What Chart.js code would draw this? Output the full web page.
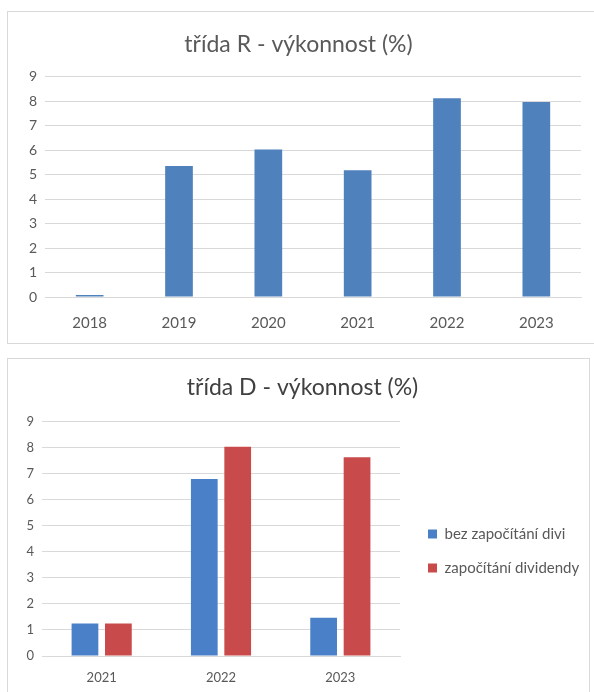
<!DOCTYPE html>
<html>
<head>
<meta charset="utf-8">
<script src="https://cdn.jsdelivr.net/npm/chart.js@4/dist/chart.umd.min.js"></script>
<style>
  body { margin: 0; background: #fff; overflow: hidden; width: 594px; height: 692px; position: relative; }
  .box { position: absolute; border: 1px solid #d9d9d9; background: #fff; }
  #boxR { left: 7px; top: 11px; width: 600px; height: 331px; }
  #boxD { left: 7px; top: 358px; width: 581px; height: 340px; }
  canvas { display: block; }
</style>
</head>
<body>
<div class="box" id="boxR"><div style="width:587px;height:331px"><canvas id="chartR"></canvas></div></div>
<div class="box" id="boxD"><div style="width:581px;height:334px"><canvas id="chartD"></canvas></div></div>
<script>
// třída R
var yearsR = ['2018', '2019', '2020', '2021', '2022', '2023'];
var valuesR = [0.08, 5.35, 6.02, 5.18, 8.12, 7.96];

// třída D
var yearsD = ['2021', '2022', '2023'];
var bezDivi = [1.25, 6.8, 1.47];
var sDividendou = [1.25, 8.03, 7.63];
var seriesD = ['bez započítání divi', 'započítání dividendy'];

var FONT = 'Lato, Calibri, "Open Sans", sans-serif';
var gridCol = '#d9d9d9';
var tickCol = '#595959';

function yAxis(w, fs) {
  return {
    min: 0, max: 9,
    ticks: { stepSize: 1, color: tickCol, font: { family: FONT, size: fs }, padding: 8 },
    grid: { color: gridCol, drawTicks: false },
    border: { display: false },
    afterFit: function(s) { s.width = w; }
  };
}
function xAxis(h, pad, fs) {
  return {
    ticks: { color: tickCol, font: { family: FONT, size: fs }, padding: pad },
    grid: { display: false, drawTicks: false },
    border: { color: gridCol },
    afterFit: function(s) { s.height = h; }
  };
}

new Chart(document.getElementById('chartR'), {
  type: 'bar',
  data: {
    labels: yearsR,
    datasets: [{ label: 'třída R', data: valuesR, backgroundColor: '#4f81bd' }]
  },
  options: {
    responsive: true, maintainAspectRatio: false, animation: false,
    layout: { padding: { left: 8, right: 14, top: 0, bottom: 0 } },
    datasets: { bar: { categoryPercentage: 1, barPercentage: 0.31 } },
    plugins: {
      legend: { display: false },
      tooltip: { enabled: false },
      title: {
        display: true, text: 'třída R - výkonnost (%)', color: '#595959',
        font: { family: FONT, size: 23, weight: 'normal' },
        padding: { top: 19, bottom: 18 }
      }
    },
    scales: { x: xAxis(46, 17, 15), y: yAxis(29, 14) }
  }
});

// legenda: pevna sirka a posun
var legendFix = {
  id: 'legendFix',
  beforeLayout: function(chart) {
    var lg = chart.legend;
    if (lg && !lg._fixed) {
      var fit = lg.fit;
      lg.fit = function() { fit.call(this); this.width = 189; };
      lg._fixed = true;
    }
  },
  afterLayout: function(chart) {
    if (chart.legend) {
      chart.legend.left += 9;
      chart.legend.top += 50;
    }
  }
};

new Chart(document.getElementById('chartD'), {
  type: 'bar',
  data: {
    labels: yearsD,
    datasets: [
      { label: seriesD[0], data: bezDivi, backgroundColor: '#4a80c8' },
      { label: seriesD[1], data: sDividendou, backgroundColor: '#c94a4a' }
    ]
  },
  plugins: [legendFix],
  options: {
    responsive: true, maintainAspectRatio: false, animation: false,
    layout: { padding: { left: 8, right: 0, top: 0, bottom: 0 } },
    datasets: { bar: { categoryPercentage: 0.56, barPercentage: 0.8 } },
    plugins: {
      legend: {
        position: 'right',
        labels: { color: '#595959', font: { family: FONT, size: 15 }, boxWidth: 9, boxHeight: 9, padding: 19 }
      },
      tooltip: { enabled: false },
      title: {
        display: true, text: 'třída D - výkonnost (%)', color: '#404040',
        font: { family: FONT, size: 23, weight: 'normal' },
        padding: { top: 15, bottom: 20 }
      }
    },
    scales: { x: xAxis(37, 14, 13), y: yAxis(26, 13) }
  }
});
</script>
</body>
</html>
